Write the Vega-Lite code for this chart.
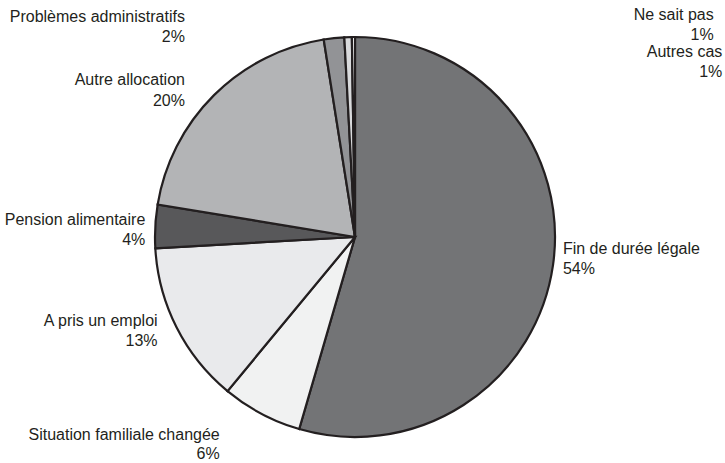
{
  "$schema": "https://vega.github.io/schema/vega-lite/v6.json",
  "autosize": "none",
  "width": 710,
  "height": 452,
  "padding": {"left": 0, "right": 15, "top": 11, "bottom": 0},
  "background": "white",
  "view": {"stroke": null},
  "config": {"font": "Liberation Sans"},
  "data": {
    "values": [
      {"cat": "Fin de durée légale", "value": 54.5, "order": 1, "label": "Fin de durée légale\n54%"},
      {"cat": "Situation familiale changée", "value": 6.5, "order": 2, "label": "Situation familiale changée\n6%"},
      {"cat": "A pris un emploi", "value": 13.1, "order": 3, "label": "A pris un emploi\n13%"},
      {"cat": "Pension alimentaire", "value": 3.5, "order": 4, "label": "Pension alimentaire\n4%"},
      {"cat": "Autre allocation", "value": 19.9, "order": 5, "label": "Autre allocation\n20%"},
      {"cat": "Problèmes administratifs", "value": 1.65, "order": 6, "label": "Problèmes administratifs\n2%"},
      {"cat": "Ne sait pas", "value": 0.6, "order": 7, "label": "Ne sait pas\n1%"},
      {"cat": "Autres cas", "value": 0.25, "order": 8, "label": "Autres cas\n1%"}
    ]
  },
  "transform": [
    {"stack": "value", "groupby": [], "sort": [{"field": "order", "order": "ascending"}], "as": ["v0", "v1"]},
    {"calculate": "(datum.v0 + datum.v1) / 2", "as": "mid"}
  ],
  "layer": [
    {
      "mark": {"type": "arc", "outerRadius": 200, "stroke": "#231f20", "strokeWidth": 2.2},
      "encoding": {
        "theta": {"field": "v0", "type": "quantitative", "stack": null, "scale": {"domain": [0, 100]}},
        "theta2": {"field": "v1"},
        "color": {
          "field": "cat",
          "type": "nominal",
          "legend": null,
          "scale": {
            "domain": ["Fin de durée légale", "Situation familiale changée", "A pris un emploi", "Pension alimentaire", "Autre allocation", "Problèmes administratifs", "Ne sait pas", "Autres cas"],
            "range": ["#737476", "#f1f2f2", "#e9eaec", "#58585a", "#b3b4b6", "#929396", "#d9dadc", "#ffffff"]
          }
        }
      }
    },
    {
      "transform": [{"filter": "datum.order == 1"}],
      "mark": {"type": "text", "radius": 210, "align": "left", "baseline": "middle", "dx": 0, "dy": -18, "fontSize": 16, "lineBreak": "\n", "lineHeight": 20, "color": "#231f20"},
      "encoding": {"theta": {"field": "mid", "type": "quantitative", "stack": null}, "text": {"field": "label"}}
    },
    {
      "transform": [{"filter": "datum.order == 2"}],
      "mark": {"type": "text", "radius": 210, "align": "right", "baseline": "middle", "dx": -37, "dy": 12, "fontSize": 16, "lineBreak": "\n", "lineHeight": 19, "color": "#231f20"},
      "encoding": {"theta": {"field": "mid", "type": "quantitative", "stack": null}, "text": {"field": "label"}}
    },
    {
      "transform": [{"filter": "datum.order == 3"}],
      "mark": {"type": "text", "radius": 210, "align": "right", "baseline": "middle", "dx": -10, "dy": -11, "fontSize": 16, "lineBreak": "\n", "lineHeight": 20, "color": "#231f20"},
      "encoding": {"theta": {"field": "mid", "type": "quantitative", "stack": null}, "text": {"field": "label"}}
    },
    {
      "transform": [{"filter": "datum.order == 4"}],
      "mark": {"type": "text", "radius": 210, "align": "right", "baseline": "middle", "dx": 0, "dy": -6, "fontSize": 16, "lineBreak": "\n", "lineHeight": 20, "color": "#231f20"},
      "encoding": {"theta": {"field": "mid", "type": "quantitative", "stack": null}, "text": {"field": "label"}}
    },
    {
      "transform": [{"filter": "datum.order == 5"}],
      "mark": {"type": "text", "radius": 210, "align": "right", "baseline": "middle", "dx": -22, "dy": -8, "fontSize": 16, "lineBreak": "\n", "lineHeight": 21, "color": "#231f20"},
      "encoding": {"theta": {"field": "mid", "type": "quantitative", "stack": null}, "text": {"field": "label"}}
    },
    {
      "transform": [{"filter": "datum.order == 6"}],
      "mark": {"type": "text", "radius": 210, "align": "right", "baseline": "middle", "dx": -148, "dy": -11, "fontSize": 16, "lineBreak": "\n", "lineHeight": 20, "color": "#231f20"},
      "encoding": {"theta": {"field": "mid", "type": "quantitative", "stack": null}, "text": {"field": "label"}}
    },
    {
      "transform": [{"filter": "datum.order == 7"}],
      "mark": {"type": "text", "radius": 210, "align": "right", "baseline": "middle", "dx": 366, "dy": -12, "fontSize": 16, "lineBreak": "\n", "lineHeight": 20, "color": "#231f20"},
      "encoding": {"theta": {"field": "mid", "type": "quantitative", "stack": null}, "text": {"field": "label"}}
    },
    {
      "transform": [{"filter": "datum.order == 8"}],
      "mark": {"type": "text", "radius": 210, "align": "right", "baseline": "middle", "dx": 369, "dy": 25, "fontSize": 16, "lineBreak": "\n", "lineHeight": 20, "color": "#231f20"},
      "encoding": {"theta": {"field": "mid", "type": "quantitative", "stack": null}, "text": {"field": "label"}}
    }
  ]
}
